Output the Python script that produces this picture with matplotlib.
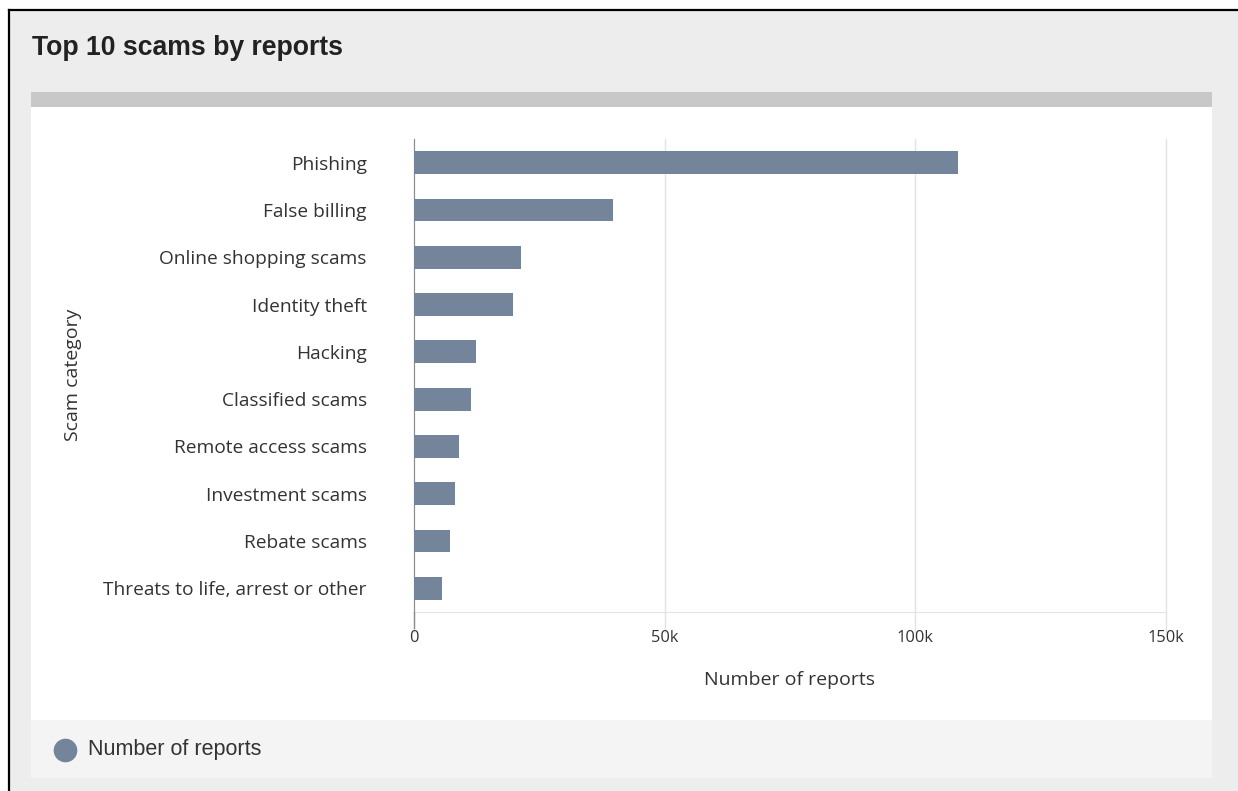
import matplotlib
matplotlib.use("Agg")
import matplotlib.pyplot as plt
from matplotlib.patches import Rectangle
from matplotlib.lines import Line2D
from matplotlib.ticker import FuncFormatter

# ---------------- Dados ----------------
categorias = [
    "Phishing",
    "False billing",
    "Online shopping scams",
    "Identity theft",
    "Hacking",
    "Classified scams",
    "Remote access scams",
    "Investment scams",
    "Rebate scams",
    "Threats to life, arrest or other",
]
relatos = [108500, 39600, 21300, 19800, 12400, 11400, 9000, 8200, 7200, 5600]
xticks = [0, 50000, 100000, 150000]

COR_BARRA = "#73849b"
COR_TEXTO = "#333333"
COR_GRADE = "#e3e3e3"

W, H = 1238, 791
fig = plt.figure(figsize=(W / 100, H / 100), dpi=100)
fig.patch.set_facecolor("white")


def px(x, y, w, h):
    # caixa em pixels (origem no topo) -> fração da figura
    return (x / W, 1 - (y + h) / H, w / W, h / H)


def caixa(x, y, w, h, cor):
    fx, fy, fw, fh = px(x, y, w, h)
    fig.patches.append(Rectangle((fx, fy), fw, fh, transform=fig.transFigure,
                                 facecolor=cor, edgecolor="none", zorder=-10))


# fundo do cartão
caixa(9, 10, W - 9, H - 10, "#ededed")
caixa(31, 92, 1181, 15, "#c8c8c8")
caixa(31, 107, 1181, 613, "#ffffff")
caixa(31, 720, 1181, 58, "#f4f4f4")
# borda preta (esquerda / topo)
fig.add_artist(Line2D([9 / W, 9 / W], [0, 1 - 10 / H], transform=fig.transFigure,
                      color="black", lw=1.6, zorder=-5))
fig.add_artist(Line2D([9 / W, 1], [1 - 10 / H, 1 - 10 / H], transform=fig.transFigure,
                      color="black", lw=1.6, zorder=-5))

fig.text(32 / W, 1 - 48 / H, "Top 10 scams by reports", fontsize=19.2, fontweight="bold",
         family="Liberation Sans", color="#222222", va="center", ha="left")

# ---------------- Gráfico ----------------
ax = fig.add_axes(px(414, 139, 752, 473))
ax.set_facecolor("white")
ypos = list(range(len(categorias)))[::-1]
ax.barh(ypos, relatos, height=0.48, color=COR_BARRA, zorder=3)
ax.set_ylim(-0.5, len(categorias) - 0.5)
ax.set_xlim(0, 150000)
ax.set_yticks(ypos)
ax.set_yticklabels(categorias)
ax.set_xticks(xticks)
ax.xaxis.set_major_formatter(FuncFormatter(lambda v, p: "0" if v == 0 else f"{int(v / 1000)}k"))
ax.grid(axis="x", color=COR_GRADE, lw=1, zorder=0)
for g in ax.get_xgridlines():
    g.set_clip_on(False)
for s in ["top", "right"]:
    ax.spines[s].set_visible(False)
ax.spines["bottom"].set_color(COR_GRADE)
ax.spines["left"].set_color("#8c8c8c")
ax.tick_params(axis="y", length=0, pad=34, labelsize=13.8, labelcolor=COR_TEXTO)
ax.tick_params(axis="x", length=15, width=1, color=COR_GRADE, pad=-2, labelsize=11.8,
               labelcolor=COR_TEXTO)
for lab in ax.get_yticklabels() + ax.get_xticklabels():
    lab.set_family("Open Sans")
# prolongamento do eixo em zero
ax.add_line(Line2D([0, 0], [-0.5, -0.83], color="#8c8c8c", lw=1, clip_on=False, zorder=4))

ax.set_xlabel("Number of reports", family="Open Sans", fontsize=14, color=COR_TEXTO, labelpad=18)
fig.text(73 / W, 1 - 375 / H, "Scam category", rotation=90, family="Open Sans",
         fontsize=14, color=COR_TEXTO, va="center", ha="center")

# ---------------- Legenda ----------------
fig.add_artist(Line2D([65 / W], [1 - 750 / H], transform=fig.transFigure, marker="o",
                      markersize=16, color=COR_BARRA, linestyle="none"))
fig.text(88 / W, 1 - 749 / H, "Number of reports", family="Liberation Sans", fontsize=15.5,
         color=COR_TEXTO, va="center", ha="left")

fig.savefig("out.png", dpi=100)
